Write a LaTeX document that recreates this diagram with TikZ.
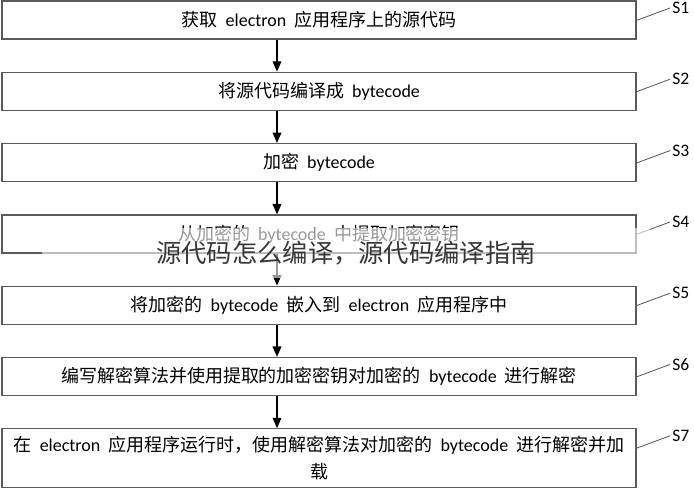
\documentclass[tikz,border=0pt]{standalone}
\usepackage{fontspec}
\setmainfont{Carlito}
\newfontfamily\cjk{Noto Sans CJK SC}
\usetikzlibrary{arrows.meta}
\definecolor{boxgray}{RGB}{90,90,90}
\definecolor{markgray}{RGB}{55,55,55}
\newcommand{\zh}[1]{{\cjk #1}}

\begin{document}
\begin{tikzpicture}[
        stepbox/.style={rectangle,draw=boxgray,line width=0.9pt,minimum width=15.85cm,minimum height=0.95cm,inner sep=0pt,align=center,font=\fontsize{12.8pt}{19pt}\selectfont},
        steplabel/.style={anchor=west,inner sep=1.5pt,font=\fontsize{12.5pt}{14pt}\selectfont},
        lead/.style={draw=boxgray,line width=0.6pt},
        flow/.style={draw,-{Triangle[length=2.6mm,width=2.2mm]},line width=0.8pt},
        veil/.style={fill=white,fill opacity=0.6,text opacity=1,text=markgray,minimum width=15.2cm,minimum height=1.25cm,font=\cjk\fontsize{18pt}{20pt}\selectfont},
      ]
      \useasboundingbox (0,0) rectangle (17.35,-12.25);
      \coordinate (axis) at (6.925,0);
      \node[stepbox] at (7.975,-0.5) (S1) {\zh{获取}~~electron~~\zh{应用程序上的源代码}};
      \node[stepbox] at (7.975,-2.2825) (S2) {\zh{将源代码编译成}~~bytecode};
      \node[stepbox] at (7.975,-4.065) (S3) {\zh{加密}~~bytecode};
      \node[stepbox] at (7.975,-5.85) (S4) {\zh{从加密的}~~bytecode~~\zh{中提取加密密钥}};
      \node[stepbox] at (7.975,-7.63) (S5) {\zh{将加密的}~~bytecode~~\zh{嵌入到}~~electron~~\zh{应用程序中}};
      \node[stepbox] at (7.975,-9.4125) (S6) {\zh{编写解密算法并使用提取的加密密钥对加密的}~~bytecode~~\zh{进行解密}};
      \node[stepbox,minimum height=1.475cm] at (7.975,-11.4575) (S7) {\zh{在}~~electron~~\zh{应用程序运行时，使用解密算法对加密的}~~bytecode~~\zh{进行解密并加}\\\zh{载}};
%
      \node[steplabel] at (16.75,-0.2) (L1) {S1};
      \node[steplabel] at (16.75,-1.98) (L2) {S2};
      \node[steplabel] at (16.75,-3.765) (L3) {S3};
      \node[steplabel] at (16.75,-5.55) (L4) {S4};
      \node[steplabel] at (16.75,-7.33) (L5) {S5};
      \node[steplabel] at (16.75,-9.11) (L6) {S6};
      \node[steplabel] at (16.75,-10.895) (L7) {S7};
%
      \path[lead] ([yshift=-0.5cm]S1.north east) -- (L1.west);
      \path[lead] ([yshift=-0.5cm]S2.north east) -- (L2.west);
      \path[lead] ([yshift=-0.5cm]S3.north east) -- (L3.west);
      \path[lead] ([yshift=-0.5cm]S4.north east) -- (L4.west);
      \path[lead] ([yshift=-0.5cm]S5.north east) -- (L5.west);
      \path[lead] ([yshift=-0.5cm]S6.north east) -- (L6.west);
      \path[lead] ([yshift=-0.5cm]S7.north east) -- (L7.west);
%
      \path[flow] (S1.south -| axis) -- (S2.north -| axis);
      \path[flow] (S2.south -| axis) -- (S3.north -| axis);
      \path[flow] (S3.south -| axis) -- (S4.north -| axis);
      \path[flow] (S4.south -| axis) -- (S5.north -| axis);
      \path[flow] (S5.south -| axis) -- (S6.north -| axis);
      \path[flow] (S6.south -| axis) -- (S7.north -| axis);
%
      \node[veil] at (8.65,-6.33) (mark) {源代码怎么编译，源代码编译指南};
    \end{tikzpicture}
\end{document}
